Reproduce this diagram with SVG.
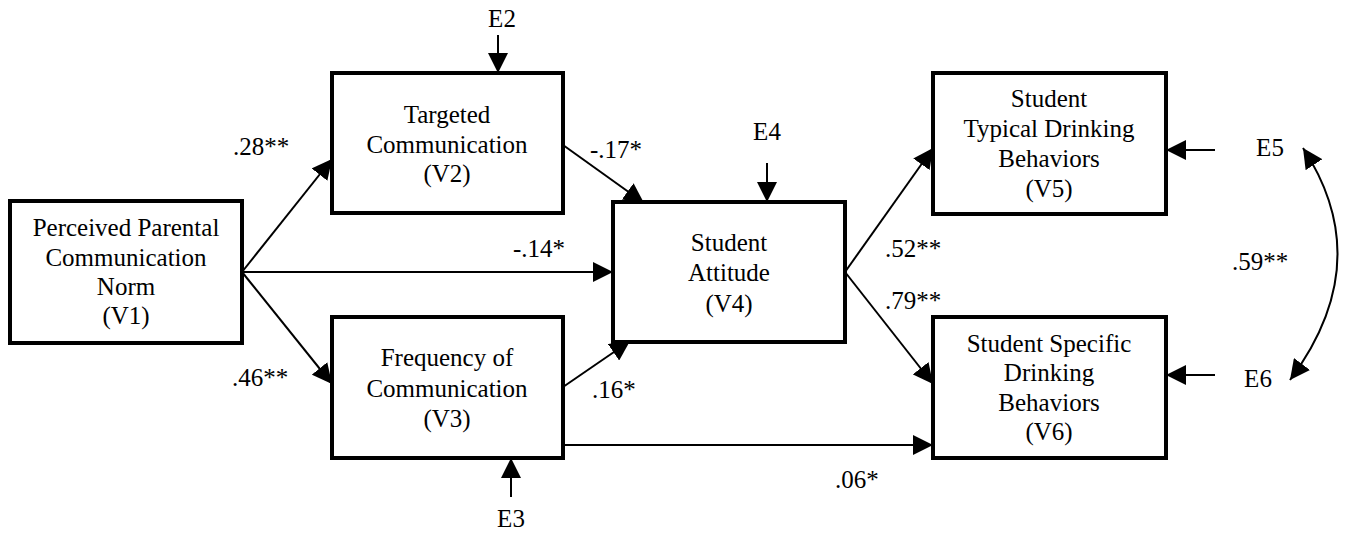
<svg xmlns="http://www.w3.org/2000/svg" width="1349" height="533" viewBox="0 0 1349 533">
<style>
  .box { fill: #fff; stroke: #000; stroke-width: 4; }
  .t { font-size: 25px; fill: #000; text-anchor: middle; }
  .lbl { font-size: 25px; fill: #000; }
  .c { fill: none; stroke: #000; stroke-width: 2; }
</style>
<defs>
  <marker id="ah" viewBox="0 0 20 20" refX="20" refY="10" markerWidth="20" markerHeight="20" markerUnits="userSpaceOnUse" orient="auto-start-reverse">
    <path d="M0,0 L20,10 L0,20 Z" fill="#000"/>
  </marker>
</defs>
<rect width="1349" height="533" fill="#fff"/>
<g font-family="Liberation Serif, Times New Roman, serif">
<g id="connectors">
  <line class="c" x1="242" y1="272" x2="332" y2="159" marker-end="url(#ah)"/>
  <line class="c" x1="242" y1="272" x2="332" y2="384" marker-end="url(#ah)"/>
  <line class="c" x1="242" y1="272" x2="613" y2="272" marker-end="url(#ah)"/>
  <line class="c" x1="563" y1="145" x2="644" y2="203" marker-end="url(#ah)"/>
  <line class="c" x1="563" y1="387" x2="630" y2="341" marker-end="url(#ah)"/>
  <line class="c" x1="563" y1="445" x2="933" y2="445" marker-end="url(#ah)"/>
  <line class="c" x1="845" y1="272" x2="933" y2="148" marker-end="url(#ah)"/>
  <line class="c" x1="845" y1="272" x2="933" y2="384" marker-end="url(#ah)"/>
  <line class="c" x1="498" y1="35" x2="498" y2="73" marker-end="url(#ah)"/>
  <line class="c" x1="511" y1="497" x2="511" y2="458" marker-end="url(#ah)"/>
  <line class="c" x1="767" y1="163" x2="767" y2="202" marker-end="url(#ah)"/>
  <line class="c" x1="1215" y1="150" x2="1166" y2="150" marker-end="url(#ah)"/>
  <line class="c" x1="1215" y1="375" x2="1166" y2="375" marker-end="url(#ah)"/>
  <path class="c" d="M1303,148 Q1378,262 1290,380" marker-start="url(#ah)" marker-end="url(#ah)"/>
  <text class="lbl" x="233" y="155">.28**</text>
  <text class="lbl" x="232" y="386">.46**</text>
  <text class="lbl" x="513" y="257">-.14*</text>
  <text class="lbl" x="590" y="158">-.17*</text>
  <text class="lbl" x="592" y="398">.16*</text>
  <text class="lbl" x="835" y="488">.06*</text>
  <text class="lbl" x="885" y="257">.52**</text>
  <text class="lbl" x="885" y="309">.79**</text>
  <text class="t" x="1260" y="270">.59**</text>
</g>
<g id="V1">
  <rect class="box" x="10" y="201" width="232" height="142"/>
  <text class="t" x="126" y="236">Perceived Parental</text>
  <text class="t" x="126" y="266">Communication</text>
  <text class="t" x="126" y="295">Norm</text>
  <text class="t" x="126" y="324">(V1)</text>
</g>
<g id="V2">
  <rect class="box" x="332" y="73" width="231" height="140"/>
  <text class="t" x="447" y="123">Targeted</text>
  <text class="t" x="447" y="153">Communication</text>
  <text class="t" x="447" y="182">(V2)</text>
</g>
<g id="V3">
  <rect class="box" x="332" y="317" width="231" height="141"/>
  <text class="t" x="447" y="366">Frequency of</text>
  <text class="t" x="447" y="397">Communication</text>
  <text class="t" x="447" y="427">(V3)</text>
</g>
<g id="V4">
  <rect class="box" x="613" y="202" width="232" height="140"/>
  <text class="t" x="729" y="251">Student</text>
  <text class="t" x="729" y="281">Attitude</text>
  <text class="t" x="729" y="312">(V4)</text>
</g>
<g id="V5">
  <rect class="box" x="933" y="73" width="233" height="141"/>
  <text class="t" x="1049" y="107">Student</text>
  <text class="t" x="1049" y="137">Typical Drinking</text>
  <text class="t" x="1049" y="167">Behaviors</text>
  <text class="t" x="1049" y="197">(V5)</text>
</g>
<g id="V6">
  <rect class="box" x="933" y="317" width="233" height="141"/>
  <text class="t" x="1049" y="352">Student Specific</text>
  <text class="t" x="1049" y="381">Drinking</text>
  <text class="t" x="1049" y="411">Behaviors</text>
  <text class="t" x="1049" y="440">(V6)</text>
</g>
<g id="E2"><text class="t" x="502" y="27">E2</text></g>
<g id="E3"><text class="t" x="511" y="527">E3</text></g>
<g id="E4"><text class="t" x="767" y="140">E4</text></g>
<g id="E5"><text class="t" x="1270" y="156">E5</text></g>
<g id="E6"><text class="t" x="1258" y="387">E6</text></g>
</g>
</svg>
